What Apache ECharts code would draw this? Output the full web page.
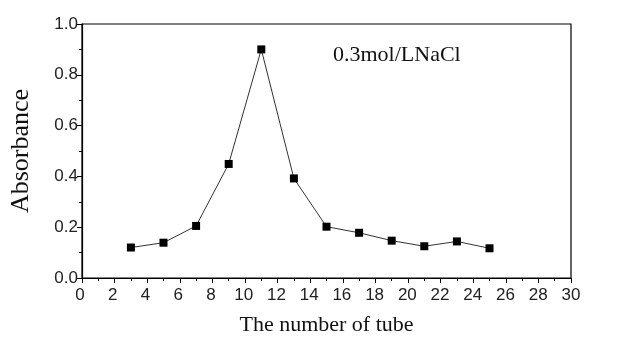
<!DOCTYPE html>
<html>
<head>
<meta charset="utf-8">
<script src="https://cdn.jsdelivr.net/npm/echarts@6/dist/echarts.min.js"></script>
<style>html,body{margin:0;padding:0;background:#fff;}#c{width:631px;height:341px;}</style>
</head>
<body>
<div id="c"></div>
<script>
const tubes = [3, 5, 7, 9, 11, 13, 15, 17, 19, 21, 23, 25];
const absorbance = [0.12, 0.139, 0.205, 0.449, 0.90, 0.392, 0.202, 0.178, 0.147, 0.125, 0.144, 0.117];
const xTitle = 'The number of tube';
const yTitle = 'Absorbance';
const annotation = '0.3mol/LNaCl';

const chart = echarts.init(document.getElementById('c'), null, {renderer: 'canvas'});
const labelFont = {fontFamily: 'Liberation Sans, Arial, sans-serif', fontSize: 17, color: '#222'};
chart.setOption({
  animation: false,
  backgroundColor: '#fff',
  grid: [
    {left: 80, right: 60, top: 24, bottom: 60, show: true, borderColor: '#000', borderWidth: 1.2, backgroundColor: 'transparent'},
    {left: 80, right: 60, top: 280, bottom: 60, show: false}
  ],
  xAxis: [{
    gridIndex: 0, type: 'value', min: 0, max: 30, interval: 2, position: 'bottom',
    name: xTitle, nameLocation: 'middle', nameGap: 36,
    nameTextStyle: {fontFamily: 'Liberation Serif, Times New Roman, serif', fontSize: 22, color: '#111'},
    axisLine: {show: true, lineStyle: {color: '#000', width: 1.2}},
    axisTick: {show: true, inside: false, length: 5, lineStyle: {color: '#000'}},
    minorTick: {show: true, splitNumber: 2, length: 3, lineStyle: {color: '#000'}},
    splitLine: {show: false},
    axisLabel: {show: false}
  }, {
    gridIndex: 1, type: 'value', min: 0, max: 30, interval: 2, position: 'bottom',
    axisLine: {show: false}, axisTick: {show: false}, splitLine: {show: false},
    axisLabel: Object.assign({margin: 6, hideOverlap: false, showMinLabel: true, showMaxLabel: true}, labelFont)
  }],
  yAxis: [{
    gridIndex: 0, type: 'value', min: 0, max: 1, interval: 0.2,
    name: yTitle, nameLocation: 'middle', nameGap: 48, nameRotate: 90,
    nameTextStyle: {fontFamily: 'Liberation Serif, Times New Roman, serif', fontSize: 26, color: '#111'},
    axisLine: {show: true, lineStyle: {color: '#000', width: 1.2}},
    axisTick: {show: true, inside: false, length: 5, lineStyle: {color: '#000'}},
    minorTick: {show: true, splitNumber: 2, length: 3, lineStyle: {color: '#000'}},
    splitLine: {show: false},
    axisLabel: Object.assign({margin: 4, formatter: v => v.toFixed(1)}, labelFont)
  }, {
    gridIndex: 1, type: 'value', min: 0, max: 1, show: false
  }],
  graphic: [{
    type: 'text', left: 333, top: 44,
    style: {text: annotation, font: '22px "Liberation Serif", "Times New Roman", serif', fill: '#111'}
  }],
  series: [{
    type: 'line', xAxisIndex: 0, yAxisIndex: 0,
    data: tubes.map((t, i) => [t, absorbance[i]]),
    symbol: 'rect', symbolSize: 8,
    itemStyle: {color: '#000'},
    lineStyle: {color: '#333', width: 1}
  }]
});
</script>
</body>
</html>
